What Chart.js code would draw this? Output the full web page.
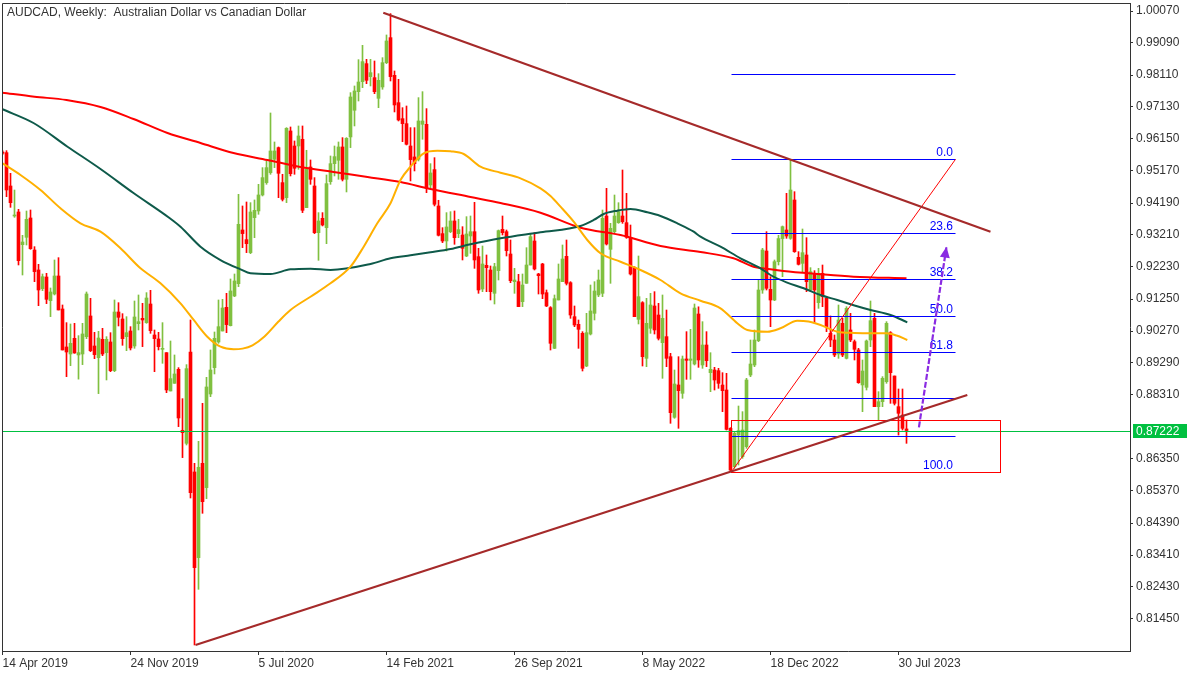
<!DOCTYPE html>
<html>
<head>
<meta charset="utf-8">
<script src="https://cdn.jsdelivr.net/npm/chart.js@4/dist/chart.umd.min.js"></script>
<style>
  html, body { margin: 0; padding: 0; background: #ffffff; }
  #wrap { width: 1200px; height: 675px; position: relative; }
</style>
</head>
<body>
<div id="wrap"><canvas id="chart" width="1200" height="675"></canvas></div>
<script>
Chart.defaults.font.family = '"Liberation Sans", Arial, sans-serif';
Chart.defaults.font.size = 12;
Chart.defaults.color = '#333333';

const titleText = 'AUDCAD, Weekly:  Australian Dollar vs Canadian Dollar';

// x axis: one slot per week, week 0 = 14 Apr 2019
const dateWeeks = [0, 32, 64, 96, 128, 160, 192, 224];
const dateLabels = ['14 Apr 2019', '24 Nov 2019', '5 Jul 2020', '14 Feb 2021', '26 Sep 2021', '8 May 2022', '18 Dec 2022', '30 Jul 2023'];
const priceTicks = [1.00070, 0.99090, 0.98110, 0.97130, 0.96150, 0.95170, 0.94190, 0.93210, 0.92230, 0.91250,
  0.90270, 0.89290, 0.88310, 0.86350, 0.85370, 0.84390, 0.83410, 0.82430, 0.81450];
const lastPrice = 0.87222;

// weekly candles
const opens = [
  0.95752,0.95732,0.94711,0.93792,0.93915,0.92914,0.93139,0.93731,0.92751,0.92139,
  0.91567,0.91924,0.91200,0.91404,0.91955,0.90944,0.89781,0.89566,0.90046,0.89536,
  0.89566,0.90097,0.90730,0.89811,0.89454,0.90015,0.89607,0.89934,0.89056,0.90852,
  0.90638,0.90097,0.90270,0.89811,0.90495,0.90658,0.90526,0.91097,0.90148,0.90026,
  0.89709,0.89607,0.88433,0.88668,0.89097,0.87229,0.86830,0.89627,0.85953,0.83329,
  0.86218,0.85473,0.88341,0.89148,0.89934,0.90270,0.90995,0.90434,0.91343,0.91720,
  0.93364,0.93068,0.92670,0.93742,0.93946,0.94436,0.94814,0.95120,0.95528,0.95886,
  0.94814,0.94354,0.96396,0.95936,0.95936,0.96141,0.94048,0.95293,0.94711,0.93282,
  0.93721,0.93435,0.94844,0.95395,0.95498,0.95906,0.94916,0.96212,0.97029,0.97600,
  0.97906,0.98458,0.98060,0.98029,0.97396,0.97743,0.98488,0.99254,0.98100,0.97263,
  0.96773,0.96620,0.95936,0.95600,0.95528,0.96600,0.96600,0.94742,0.95212,0.94099,
  0.93252,0.93027,0.93313,0.93640,0.93252,0.93210,0.92567,0.93180,0.93312,0.92547,
  0.91556,0.92281,0.92138,0.91424,0.92118,0.93384,0.93312,0.92628,0.91781,0.91781,
  0.91169,0.91730,0.92291,0.93026,0.92016,0.92322,0.91444,0.90985,0.89739,0.91220,
  0.91781,0.92557,0.91750,0.90709,0.90474,0.90199,0.89198,0.90178,0.90811,0.91373,
  0.91424,0.93792,0.92771,0.93312,0.93588,0.93792,0.93588,0.93139,0.92220,0.90627,
  0.91138,0.89433,0.90352,0.91036,0.90760,0.89913,0.90097,0.89484,0.87626,0.88617,
  0.88361,0.89413,0.89372,0.89259,0.90791,0.89229,0.89841,0.88994,0.89076,0.89055,
  0.88616,0.88463,0.87289,0.86115,0.87085,0.86422,0.86728,0.88922,0.89229,0.89974,
  0.91526,0.92720,0.91546,0.91219,0.92393,0.93100,0.93363,0.93108,0.94282,0.92526,
  0.92342,0.92598,0.91526,0.92005,0.91138,0.92036,0.91270,0.90199,0.89995,0.89566,
  0.90505,0.89433,0.90301,0.89944,0.89689,0.88617,0.88545,0.89995,0.90658,0.87953,
  0.88106,0.88719,0.90219,0.88892,0.87953,0.87697,0.87270
];
const highs = [
  0.95793,0.95793,0.95099,0.94588,0.93996,0.93200,0.93945,0.93976,0.92853,0.92312,
  0.92016,0.92037,0.91587,0.92445,0.92516,0.91067,0.90526,0.90485,0.90505,0.90128,
  0.90505,0.91465,0.91271,0.90230,0.90260,0.90352,0.90097,0.90219,0.91220,0.91138,
  0.90801,0.90709,0.90403,0.91189,0.91373,0.91118,0.91445,0.91516,0.90301,0.90230,
  0.90526,0.89607,0.89964,0.89536,0.89148,0.88198,0.89240,0.90607,0.86218,0.86892,
  0.88055,0.88852,0.89689,0.90240,0.91220,0.91240,0.91424,0.91863,0.92016,0.94456,
  0.94099,0.94221,0.94201,0.94283,0.94762,0.95273,0.95477,0.96947,0.96059,0.95906,
  0.95069,0.96498,0.96518,0.96090,0.96549,0.96549,0.95804,0.95508,0.94967,0.93895,
  0.93895,0.95048,0.95630,0.95936,0.96059,0.96192,0.96192,0.97570,0.97774,0.98580,
  0.99019,0.98590,0.98590,0.98539,0.98151,0.98641,0.99336,0.99990,0.98233,0.97978,
  0.97110,0.97161,0.96498,0.96498,0.97417,0.97600,0.97080,0.95395,0.95579,0.94273,
  0.93435,0.93895,0.93925,0.93946,0.93691,0.93465,0.93772,0.93792,0.94210,0.92802,
  0.92873,0.92598,0.92261,0.92343,0.93363,0.93792,0.93363,0.93057,0.92189,0.92005,
  0.92016,0.92822,0.93261,0.93282,0.92036,0.92343,0.91526,0.91016,0.91373,0.92322,
  0.92904,0.93057,0.91781,0.91036,0.90607,0.90250,0.90811,0.91679,0.91781,0.92138,
  0.93976,0.94639,0.93567,0.94435,0.94200,0.95201,0.94486,0.93516,0.92240,0.92567,
  0.91169,0.91271,0.91424,0.91475,0.91117,0.91373,0.90913,0.89586,0.89076,0.89484,
  0.89504,0.90250,0.90321,0.91097,0.91011,0.90556,0.90250,0.89606,0.89157,0.89127,
  0.88994,0.88973,0.87310,0.87187,0.87973,0.87800,0.88821,0.89994,0.90301,0.91832,
  0.92802,0.93312,0.91934,0.92445,0.93200,0.93486,0.94486,0.95527,0.94537,0.92700,
  0.93394,0.93128,0.92210,0.92118,0.92189,0.92291,0.91322,0.90730,0.90148,0.91066,
  0.90658,0.91015,0.90811,0.89995,0.89740,0.89382,0.89995,0.91189,0.90811,0.88412,
  0.88872,0.90556,0.90250,0.88892,0.88494,0.88494,0.87544
];
const lows = [
  0.95670,0.94384,0.94057,0.93751,0.92292,0.91985,0.92904,0.92771,0.91781,0.91046,
  0.91506,0.91108,0.90710,0.91373,0.90914,0.89689,0.88872,0.89209,0.89587,0.88796,
  0.89240,0.90036,0.89638,0.89423,0.88352,0.89515,0.88770,0.89025,0.89025,0.90424,
  0.89832,0.89668,0.89689,0.89740,0.90301,0.89791,0.90505,0.90199,0.89025,0.89689,
  0.89280,0.88382,0.88433,0.88668,0.87341,0.86392,0.86779,0.85156,0.80654,0.82359,
  0.84687,0.85136,0.88259,0.88954,0.89893,0.90270,0.90219,0.90424,0.91322,0.91629,
  0.92823,0.92670,0.92639,0.93129,0.93844,0.94405,0.94763,0.95069,0.95273,0.94354,
  0.94252,0.94201,0.95018,0.95069,0.95222,0.93895,0.94048,0.94762,0.93252,0.92435,
  0.93487,0.92945,0.94762,0.95018,0.94916,0.94865,0.94528,0.95886,0.96549,0.97314,
  0.97723,0.97845,0.97774,0.97539,0.97110,0.97672,0.98458,0.97927,0.96978,0.96702,
  0.96069,0.95967,0.94865,0.95171,0.95477,0.96141,0.94507,0.94660,0.94099,0.93180,
  0.92976,0.92721,0.93282,0.92925,0.93129,0.92445,0.92547,0.92649,0.92189,0.91424,
  0.91475,0.91475,0.91220,0.91097,0.91832,0.93210,0.92567,0.91750,0.91424,0.91016,
  0.91016,0.91730,0.92291,0.92138,0.91403,0.91260,0.91016,0.89688,0.89729,0.91220,
  0.91781,0.91679,0.90658,0.90403,0.89739,0.89045,0.89178,0.90148,0.90607,0.91322,
  0.91322,0.92904,0.91730,0.93282,0.93567,0.93567,0.93108,0.91985,0.90709,0.90485,
  0.89198,0.89178,0.90199,0.90178,0.89995,0.88821,0.89178,0.87443,0.87596,0.87290,
  0.88208,0.88790,0.88790,0.89229,0.89157,0.89127,0.89178,0.88412,0.88463,0.88514,
  0.87800,0.87238,0.85961,0.86064,0.86166,0.86371,0.86677,0.88871,0.89178,0.89943,
  0.91424,0.91526,0.90403,0.91199,0.92291,0.91934,0.93108,0.93077,0.92679,0.92291,
  0.92087,0.91475,0.91475,0.90505,0.90964,0.91015,0.90250,0.89791,0.89484,0.89433,
  0.89484,0.89413,0.89944,0.89382,0.88668,0.87800,0.88463,0.89791,0.87953,0.87544,
  0.87953,0.88668,0.88055,0.88004,0.87085,0.87238,0.86830
];
const closes = [
  0.95711,0.94588,0.94200,0.93823,0.92424,0.92996,0.93690,0.92792,0.92088,0.91526,
  0.91934,0.91240,0.91465,0.91955,0.90914,0.89689,0.89627,0.89893,0.89597,0.89607,
  0.90179,0.91404,0.89668,0.89546,0.90056,0.89566,0.90015,0.89056,0.90852,0.90689,
  0.90036,0.90219,0.89750,0.90699,0.90556,0.90607,0.91281,0.90281,0.90036,0.89791,
  0.89719,0.88464,0.88811,0.88954,0.87606,0.87157,0.89117,0.85320,0.83023,0.86096,
  0.85044,0.88556,0.89076,0.90046,0.90403,0.90975,0.90465,0.91496,0.91802,0.93537,
  0.93252,0.92945,0.93915,0.93966,0.94436,0.94967,0.95273,0.95783,0.95783,0.95099,
  0.94303,0.96477,0.95089,0.95253,0.96243,0.93966,0.95222,0.94916,0.93282,0.93640,
  0.93517,0.94783,0.95395,0.95610,0.95906,0.94916,0.96171,0.97437,0.97621,0.97896,
  0.98519,0.97947,0.98182,0.97600,0.97947,0.98488,0.99152,0.98060,0.97192,0.96733,
  0.96620,0.95988,0.95518,0.95395,0.96702,0.96702,0.94640,0.95110,0.94150,0.93201,
  0.93027,0.93456,0.93640,0.93129,0.93374,0.92802,0.93241,0.93312,0.92445,0.91526,
  0.92322,0.92210,0.91475,0.92240,0.93343,0.93282,0.92730,0.91812,0.91832,0.91016,
  0.91679,0.92291,0.93159,0.92169,0.91965,0.91403,0.91036,0.89893,0.91260,0.91863,
  0.92475,0.91730,0.90760,0.90454,0.90321,0.89127,0.90219,0.90883,0.91495,0.91832,
  0.93720,0.92935,0.93414,0.93792,0.93925,0.93619,0.93139,0.92016,0.90709,0.91322,
  0.89484,0.90505,0.91067,0.90301,0.90046,0.90658,0.89433,0.87769,0.88647,0.88443,
  0.89413,0.89372,0.89413,0.90974,0.89382,0.89841,0.89361,0.89096,0.88769,0.88667,
  0.88443,0.87258,0.86010,0.87136,0.87218,0.87238,0.88770,0.89259,0.89994,0.91526,
  0.92751,0.91577,0.91219,0.92393,0.93100,0.93465,0.93179,0.94588,0.92700,0.92312,
  0.92669,0.91781,0.92087,0.91526,0.92036,0.91322,0.90403,0.89995,0.89535,0.90607,
  0.89535,0.90964,0.89995,0.89709,0.88688,0.89045,0.89964,0.90587,0.87953,0.88106,
  0.88821,0.90505,0.88994,0.88055,0.87749,0.87289,0.87222
];

// moving averages: [week, price]
const ma50 = [
  [0,0.95406],[4.5,0.95048],[9.5,0.94588],[14.5,0.94028],[19.5,0.93568],[24.5,0.93311],[29.5,0.92803],
  [34.5,0.92190],[39.5,0.91731],[44.5,0.91118],[47.8,0.90607],[51.2,0.90096],[54.5,0.89789],[57.8,0.89710],
  [60,0.89730],[62.5,0.89830],[65.5,0.90100],[69,0.90560],[72,0.90913],[77,0.91320],[82,0.91731],[87,0.92239],
  [90.3,0.92852],[93.7,0.93568],[97,0.94181],[99.5,0.94894],[102,0.95302],[105.3,0.95712],[108.7,0.95792],
  [112,0.95773],[115.3,0.95691],[119.5,0.95302],[124.5,0.95118],[129.5,0.94946],[134.5,0.94640],[137,0.94404],
  [139.5,0.94077],[142.8,0.93617],[146.2,0.93057],[149.5,0.92650],[154.5,0.92392],[159.5,0.92138],
  [164.5,0.91832],[169.5,0.91425],[174.5,0.91198],[179.5,0.90965],[183.7,0.90506],[186.2,0.90301],
  [191.2,0.90248],[194.5,0.90353],[198.7,0.90585],[201.5,0.90560],[204.5,0.90454],[208.7,0.90248],
  [213,0.90210],[217,0.90199],[221,0.90199],[223.5,0.90130],[226.2,0.89994]
];
const ma100 = [
  [0,0.97060],[7.75,0.96640],[16.25,0.95914],[24.5,0.95231],[32.75,0.94496],[41.75,0.93731],[44.5,0.93464],
  [49.5,0.92852],[54.5,0.92444],[59.5,0.92159],[62,0.92037],[67,0.92016],[72,0.92159],[77,0.92180],[82,0.92138],
  [92,0.92322],[97,0.92496],[102,0.92588],[107,0.92680],[112,0.92781],[117,0.92926],[124.5,0.93109],
  [134.5,0.93293],[144.5,0.93486],[147.8,0.93670],[150.3,0.93854],[153.7,0.93955],[157,0.94006],
  [161.2,0.93905],[164.5,0.93792],[168.7,0.93568],[172.8,0.93311],[174.5,0.93158],[179.5,0.92852],
  [184.5,0.92497],[189.5,0.92190],[192,0.91985],[196,0.91760],[200.3,0.91578],[204.5,0.91373],
  [208.7,0.91219],[213,0.91050],[217,0.90913],[222,0.90760],[226.2,0.90536]
];
const ma200 = [
  [0,0.97568],[8,0.97446],[16,0.97344],[24.5,0.97130],[32.75,0.96763],[41.25,0.96334],[49.5,0.96028],
  [57.75,0.95722],[66.25,0.95507],[74.5,0.95293],[82.75,0.95139],[91.25,0.94986],[99.5,0.94833],
  [107,0.94619],[117,0.94374],[124.5,0.94190],[134.5,0.93893],[144.5,0.93434],[154.5,0.93210],
  [164.5,0.92873],[174.5,0.92689],[182.75,0.92497],[187.75,0.92240],[192,0.92159],[195.25,0.92108],
  [203.75,0.92016],[212.75,0.91933],[226,0.91884]
];

// hand-drawn objects, [week, price]
const upperTrend = [[95.2, 1.00018], [247, 0.93311]];
const lowerTrend = [[48.25, 0.80654], [241.2, 0.88310]];
const fibLow = [182.25, 0.85961];
const fibHigh = [238.25, 0.95528];
const fibLevels = [-27.2, 0, 23.6, 38.2, 50, 61.8, 76.4, 88.6, 100];
const fibLabels = ['', '0.0', '23.6', '38.2', '50.0', '61.8', '', '', '100.0'];
const zoneBox = [[182, 0.87545], [249.2, 0.85967]];
const arrowPath = [[229.1, 0.87321], [236, 0.92852]];

const UP = '#80c040';
const DOWN = '#ff0000';
const weeks = closes.map((_, i) => i);
const candleColors = weeks.map(i => closes[i] >= opens[i] ? UP : DOWN);

const toXY = (pts) => pts.map(([x, y]) => ({ x, y }));

const drawings = {
  id: 'drawings',
  afterDatasetsDraw(chart) {
    const { ctx, chartArea: a, scales: { x, y } } = chart;
    const px = (p) => [x.getPixelForValue(p[0]), y.getPixelForValue(p[1])];
    const seg = (p1, p2, color, width, dash) => {
      const [x1, y1] = px(p1);
      const [x2, y2] = px(p2);
      ctx.beginPath();
      ctx.setLineDash(dash || []);
      ctx.strokeStyle = color;
      ctx.lineWidth = width;
      ctx.moveTo(x1, y1);
      ctx.lineTo(x2, y2);
      ctx.stroke();
      ctx.setLineDash([]);
    };

    ctx.save();
    ctx.beginPath();
    ctx.rect(a.left, a.top, a.width, a.height);
    ctx.clip();

    // bid line
    const yb = Math.round(y.getPixelForValue(lastPrice)) + 0.5;
    ctx.strokeStyle = '#00c040';
    ctx.lineWidth = 1;
    ctx.beginPath();
    ctx.moveTo(a.left, yb);
    ctx.lineTo(a.right, yb);
    ctx.stroke();

    // fibo
    const range = fibHigh[1] - fibLow[1];
    ctx.font = '12px "Liberation Sans", Arial, sans-serif';
    ctx.textAlign = 'right';
    ctx.textBaseline = 'alphabetic';
    fibLevels.forEach((lv, k) => {
      const price = fibHigh[1] - lv / 100 * range;
      const x1 = x.getPixelForValue(fibLow[0]);
      const x2 = x.getPixelForValue(fibHigh[0]);
      const yy = Math.round(y.getPixelForValue(price)) + 0.5;
      ctx.strokeStyle = '#0000ff';
      ctx.lineWidth = 1;
      ctx.beginPath();
      ctx.moveTo(x1, yy);
      ctx.lineTo(x2, yy);
      ctx.stroke();
      if (fibLabels[k]) {
        ctx.fillStyle = '#0000ff';
        ctx.fillText(fibLabels[k], x2 - 2.5, yy - 4);
      }
    });
    seg(fibLow, fibHigh, '#ff0000', 1);

    // zone
    const [bx1, by1] = px(zoneBox[0]);
    const [bx2, by2] = px(zoneBox[1]);
    ctx.strokeStyle = '#ff0000';
    ctx.lineWidth = 1;
    ctx.strokeRect(Math.round(bx1) + 0.5, Math.round(by1) + 0.5, Math.round(bx2 - bx1), Math.round(by2 - by1));

    // trend lines
    seg(upperTrend[0], upperTrend[1], '#a52a2a', 2.2);
    seg(lowerTrend[0], lowerTrend[1], '#a52a2a', 2.2);

    // arrow
    seg(arrowPath[0], arrowPath[1], '#8a2be2', 2.2, [6, 2]);
    const [ax1, ay1] = px(arrowPath[0]);
    const [ax2, ay2] = px(arrowPath[1]);
    const ang = Math.atan2(ay2 - ay1, ax2 - ax1);
    ctx.fillStyle = '#8a2be2';
    ctx.beginPath();
    ctx.moveTo(ax2, ay2);
    ctx.lineTo(ax2 - 11 * Math.cos(ang) + 5 * Math.sin(ang), ay2 - 11 * Math.sin(ang) - 5 * Math.cos(ang));
    ctx.lineTo(ax2 - 11 * Math.cos(ang) - 5 * Math.sin(ang), ay2 - 11 * Math.sin(ang) + 5 * Math.cos(ang));
    ctx.closePath();
    ctx.fill();

    ctx.restore();
  },
  afterDraw(chart) {
    const { ctx, chartArea: a, scales: { y } } = chart;
    ctx.save();
    ctx.strokeStyle = '#333333';
    ctx.lineWidth = 1;
    ctx.beginPath();
    ctx.moveTo(a.left + 0.5, a.bottom);
    ctx.lineTo(a.left + 0.5, a.top + 0.5);
    ctx.lineTo(a.right, a.top + 0.5);
    ctx.stroke();

    ctx.font = '12px "Liberation Sans", Arial, sans-serif';
    ctx.fillStyle = '#333333';
    ctx.textAlign = 'left';
    ctx.textBaseline = 'alphabetic';
    ctx.fillText(titleText, a.left + 5, 16);

    // bid label on the price axis
    const yb = Math.round(y.getPixelForValue(lastPrice));
    ctx.fillStyle = '#00c040';
    ctx.fillRect(a.right + 3, yb - 7, 54, 14);
    ctx.fillStyle = '#ffffff';
    ctx.textBaseline = 'middle';
    ctx.fillText(lastPrice.toFixed(5), a.right + 6, yb + 0.5);
    ctx.restore();
  }
};

new Chart(document.getElementById('chart'), {
  type: 'bar',
  data: {
    datasets: [
      { type: 'line', label: 'MA 50', data: toXY(ma50), borderColor: '#ffb000', borderWidth: 2,
        pointRadius: 0, cubicInterpolationMode: 'monotone', order: 0 },
      { type: 'line', label: 'MA 100', data: toXY(ma100), borderColor: '#0e5a4a', borderWidth: 2,
        pointRadius: 0, cubicInterpolationMode: 'monotone', order: 0 },
      { type: 'line', label: 'MA 200', data: toXY(ma200), borderColor: '#ff0000', borderWidth: 2,
        pointRadius: 0, cubicInterpolationMode: 'monotone', order: 0 },
      { label: 'body', data: weeks.map(i => ({ x: i, y: [opens[i], closes[i]] })),
        backgroundColor: candleColors, barThickness: 3, minBarLength: 1, grouped: false, order: 1 },
      { label: 'wick', data: weeks.map(i => ({ x: i, y: [lows[i], highs[i]] })),
        backgroundColor: candleColors, barThickness: 1, grouped: false, order: 2 }
    ]
  },
  options: {
    responsive: false,
    animation: false,
    events: [],
    layout: { padding: { left: 2, top: 3, right: 0, bottom: 0 } },
    plugins: { legend: { display: false }, tooltip: { enabled: false } },
    scales: {
      x: {
        type: 'linear',
        offset: false,
        min: -0.125,
        max: 281.875,
        grid: { offset: false, drawOnChartArea: false, drawTicks: true, tickLength: 4, tickColor: '#333333' },
        border: { display: true, color: '#333333' },
        ticks: {
          autoSkip: false, maxRotation: 0, align: 'start', padding: 1, color: '#333333',
          callback: (v) => dateLabels[dateWeeks.indexOf(v)]
        },
        afterBuildTicks: (s) => { s.ticks = dateWeeks.map(v => ({ value: v })); },
        afterFit: (s) => { s.height = 24; s.paddingLeft = 0; s.paddingRight = 0; }
      },
      y: {
        type: 'linear',
        position: 'right',
        min: 0.80470,
        max: 1.00315,
        grid: { drawOnChartArea: false, drawTicks: true, tickLength: 3, tickColor: '#333333' },
        border: { display: true, color: '#333333' },
        ticks: { autoSkip: false, padding: 3, color: '#333333', callback: (v) => v.toFixed(5) },
        afterBuildTicks: (s) => { s.ticks = priceTicks.map(v => ({ value: v })); },
        afterFit: (s) => { s.width = 70; s.paddingTop = 0; s.paddingBottom = 0; }
      }
    }
  },
  plugins: [drawings]
});
</script>
</body>
</html>
